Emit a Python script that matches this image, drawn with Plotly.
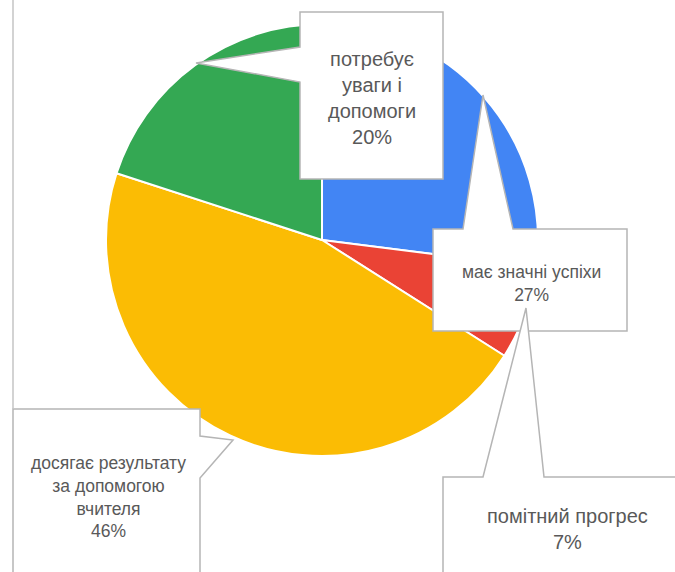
import plotly.graph_objects as go

# Data
labels = ["має значні успіхи", "помітний прогрес",
          "досягає результату за допомогою вчителя", "потребує уваги і допомоги"]
label_lines = ["має значні успіхи", "помітний прогрес",
               "досягає результату<br>за допомогою<br>вчителя", "потребує<br>уваги і<br>допомоги"]
values = [27, 7, 46, 20]
colors = ["#4285F4", "#EA4335", "#FBBC04", "#34A853"]

W, H = 675, 572


def px_path(points):
    # pixel coords (y down) -> paper path
    parts = []
    for i, (x, y) in enumerate(points):
        parts.append(("M" if i == 0 else "L") + f"{x / W:.5f},{1 - y / H:.5f}")
    return " ".join(parts) + " Z"


fig = go.Figure()

# pie centered at (322, 240) px, radius 216
cx, cy, r = 322, 240, 216
fig.add_trace(go.Pie(
    labels=labels,
    values=values,
    marker=dict(colors=colors, line=dict(color="white", width=2)),
    sort=False,
    direction="clockwise",
    rotation=0,
    textinfo="none",
    showlegend=False,
    domain=dict(x=[(cx - r) / W, (cx + r) / W], y=[(H - cy - r) / H, (H - cy + r) / H]),
))

# callout boxes (rectangle + pointer), in pixel coords
callouts = [
    # order: 20%, 27%, 46%, 7%
    [(300, 12), (443, 12), (443, 179), (300, 179), (300, 82), (196, 63), (300, 47)],
    [(433, 229), (463, 229), (483, 95), (513, 229), (627, 229), (627, 331), (433, 331)],
    [(13, 409), (200, 409), (200, 436), (233, 440), (200, 478), (200, 580), (13, 580)],
    [(443, 477), (483, 477), (526, 308), (544, 477), (690, 477), (690, 580), (443, 580)],
]
for pts in callouts:
    fig.add_shape(type="path", path=px_path(pts), xref="paper", yref="paper",
                  fillcolor="white", line=dict(color="#b5b5b5", width=1.5), layer="above")

# faint left border line
fig.add_shape(type="line", xref="paper", yref="paper",
              x0=13 / W, x1=13 / W, y0=1, y1=1 - 409 / H,
              line=dict(color="#c4c4c4", width=1.5))

# callout texts: (index into data, center px, font size)
text_pos = [(3, 372, 98, 20), (0, 531, 283, 17.5), (2, 108, 497, 17.5), (1, 567, 529, 20)]
for i, x, y, size in text_pos:
    fig.add_annotation(
        x=x / W, y=1 - y / H, xref="paper", yref="paper",
        xanchor="center", yanchor="middle",
        text=f"{label_lines[i]}<br>{values[i]}%",
        showarrow=False, align="center",
        font=dict(family="Liberation Sans, Arial", size=size, color="#595959"),
    )

fig.update_layout(
    width=W, height=H,
    margin=dict(l=0, r=0, t=0, b=0),
    paper_bgcolor="white",
    plot_bgcolor="white",
)

fig.write_html("out.html", config={"displayModeBar": False},
               post_script="document.body.style.margin='0';")
